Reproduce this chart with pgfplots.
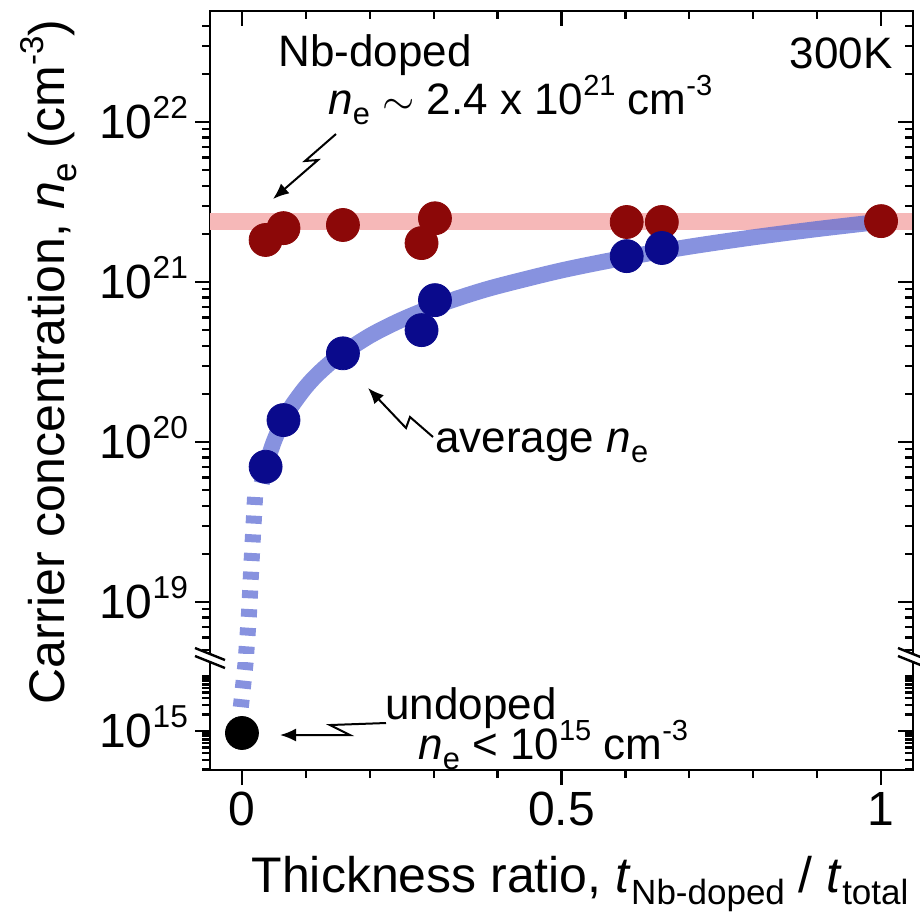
\documentclass[border=0pt]{standalone}
\usepackage{pgfplots}
\pgfplotsset{compat=1.18}
\usepackage{fontspec}
\setmainfont{Liberation Sans}
\usetikzlibrary{arrows.meta}
\definecolor{dred}{RGB}{140,8,8}
\definecolor{dblue}{RGB}{10,10,140}
\definecolor{bandc}{RGB}{246,184,184}
\definecolor{curvec}{RGB}{95,110,212}
\makeatletter
\newcommand\sps[1]{\raisebox{0.42em}[0.5em][0pt]{\fontsize{\fpeval{0.66*\f@size}}{1}\selectfont #1}}
\newcommand\sbs[1]{\raisebox{-0.24em}[0.3em][0pt]{\fontsize{\fpeval{0.7*\f@size}}{1}\selectfont #1}}
\makeatother
\newcommand\nee{\textit{n}\sbs{e}}
\newcommand\tp[1]{10\sps{#1}}

\pgfplotsset{
  mycommon/.style={scale only axis, width=351.5pt, xmin=-0.05, xmax=1.05,
    major tick length=7.5pt, minor tick length=4pt,
    tick style={black, line width=1.1pt},
    axis line style={black, line width=1.4pt, line cap=rect},
    xtick={0,0.5,1}, minor xtick={0.1,0.2,0.3,0.4,0.6,0.7,0.8,0.9},
    tick label style={font=\fontsize{24}{28}\selectfont},
  },
  myupper/.style={mycommon, at={(105pt,-327pt)}, anchor=south west, height=321.5pt,
    ymin=4.73e18, ymax=4.94e22,
    ytick={1e19,1e20,1e21,1e22},
    minor ytick={5e18,6e18,7e18,8e18,9e18,
      2e19,3e19,4e19,5e19,6e19,7e19,8e19,9e19,
      2e20,3e20,4e20,5e20,6e20,7e20,8e20,9e20,
      2e21,3e21,4e21,5e21,6e21,7e21,8e21,9e21,
      2e22,3e22,4e22}},
  mylower/.style={mycommon, at={(105pt,-385pt)}, anchor=south west, height=54pt,
    ymin=1.954e14, ymax=1.797e16,
    ytick={1e15},
    minor ytick={2e14,3e14,4e14,5e14,6e14,7e14,8e14,9e14,
      2e15,3e15,4e15,5e15,6e15,7e15,8e15,9e15,1e16}},
}

\begin{document}
\begin{tikzpicture}
\useasboundingbox (0,0) rectangle (460pt,-456pt);

% ---------- upper segment ----------
\begin{axis}[ymode=log, myupper, axis y line*=left, axis x line=none, tick align=outside,
  yticklabels={\tp{19},\tp{20},\tp{21},\tp{22}}]
  \addplot[bandc, line width=8.5pt] coordinates {(-0.05,2.39e21) (1.05,2.39e21)};
  \addplot[curvec, opacity=0.75, line width=8pt, smooth] coordinates {
    (0.031,5.52e19) (0.035,6.48e19) (0.04,7.68e19) (0.05,1.008e20) (0.06,1.248e20)
    (0.07,1.488e20) (0.08,1.728e20) (0.1,2.208e20) (0.12,2.688e20) (0.15,3.408e20)
    (0.2,4.608e20) (0.25,5.808e20) (0.3,7.008e20) (0.35,8.208e20) (0.4,9.408e20)
    (0.5,1.1808e21) (0.6,1.4208e21) (0.7,1.6608e21) (0.8,1.9008e21) (0.9,2.1408e21)
    (1.0,2.3808e21)};
  \addplot[curvec, opacity=0.75, line width=8pt, dash pattern=on 4pt off 5.35pt, smooth] coordinates {
    (0.0205,4.53e19) (0.0152,1.83e19) (0.011,8.5e18) (0.0066,4.73e18)};
  \addplot[only marks, mark=*, mark size=8.25pt, mark options={draw=dred, fill=dred}] coordinates {
    (0.037,1.83e21) (0.065,2.17e21) (0.158,2.27e21) (0.281,1.75e21) (0.302,2.50e21)
    (0.602,2.37e21) (0.657,2.37e21) (1.0,2.40e21)};
  \addplot[only marks, mark=*, mark size=8.25pt, mark options={draw=dblue, fill=dblue}] coordinates {
    (0.037,7.0e19) (0.065,1.37e20) (0.158,3.58e20) (0.281,5.0e20) (0.302,7.7e20)
    (0.602,1.45e21) (0.657,1.63e21)};
\end{axis}
\begin{axis}[ymode=log, myupper, axis y line*=right, axis x line*=top, tick align=inside,
  xticklabels={}, yticklabels={}]
\end{axis}

% ---------- lower segment ----------
\begin{axis}[ymode=log, mylower, axis y line*=left, axis x line*=bottom, tick align=outside,
  xticklabels={0,0.5,1}, yticklabels={\tp{15}}]
  \addplot[curvec, opacity=0.75, line width=8pt, dash pattern=on 4pt off 5.35pt] coordinates {
    (0.0058,1.797e16) (-0.003,2.0e15)};
  \addplot[only marks, mark=*, mark size=8.25pt, mark options={draw=black, fill=black}] coordinates {
    (0.0,9.2e14)};
\end{axis}
\begin{axis}[ymode=log, mylower, axis y line*=right, axis x line=none, tick align=inside, yticklabels={}]
\end{axis}

% ---------- axis breaks ----------
\foreach \bx in {105pt,456.5pt}{
  \draw[line width=1.2pt] (\bx-7.5pt,-324pt) -- (\bx+7.5pt,-330pt);
  \draw[line width=1.2pt] (\bx-7.5pt,-328pt) -- (\bx+7.5pt,-334pt);
}

% ---------- labels ----------
\node[rotate=90, anchor=base, font=\fontsize{25}{30}\selectfont] at (32pt,-181pt)
  {Carrier concentration, \nee{} (cm\sps{-3})};
\node[anchor=base, font=\fontsize{25}{30}\selectfont] at (290pt,-446pt)
  {Thickness ratio, \textit{t}\sbs{Nb-doped} / \textit{t}\sbs{total}};

% ---------- annotations ----------
\begin{scope}[font=\fontsize{22}{26}\selectfont]
\node[anchor=base west, inner sep=0pt] at (139pt,-33pt) {Nb-doped};
\node[anchor=base west, inner sep=0pt] at (164pt,-57pt) {\nee\ $\sim$ 2.4 x \tp{21} cm\sps{-3}};
\node[anchor=base east, inner sep=0pt] at (446.5pt,-34pt) {300K};
\node[anchor=base west, inner sep=0pt] at (217.5pt,-226pt) {average \nee};
\node[anchor=base west, inner sep=0pt] at (192.5pt,-359.5pt) {undoped};
\node[anchor=base west, inner sep=0pt] at (209pt,-379.5pt) {\nee\ < \tp{15} cm\sps{-3}};
\end{scope}

% ---------- lightning arrows ----------
\begin{scope}[line width=1pt, -{Latex[length=8pt,width=6.5pt]}]
\draw (168pt,-67pt) -- (152.5pt,-80.5pt) -- (159pt,-80pt) -- (136.5pt,-99.5pt);
\draw (216.5pt,-218.5pt) -- (205pt,-208.5pt) -- (203pt,-214pt) -- (184pt,-194pt);
\draw (193pt,-361.5pt) -- (165pt,-362.5pt) -- (175pt,-367.5pt) -- (140pt,-367.5pt);
\end{scope}
\end{tikzpicture}
\end{document}
